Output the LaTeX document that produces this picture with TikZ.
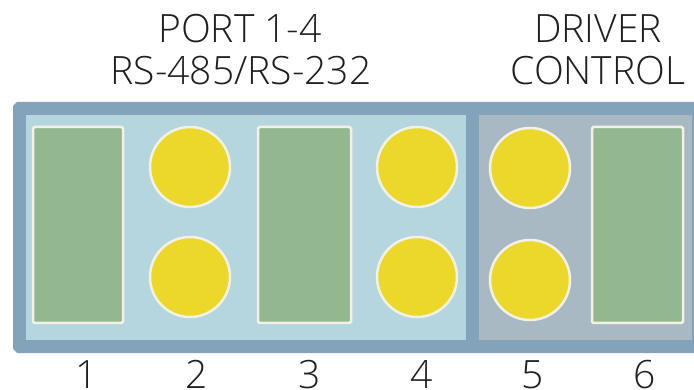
\documentclass[tikz,border=0pt]{standalone}
\usepackage{fontspec}
\setmainfont{Open Sans Light}
\definecolor{frame}{HTML}{82A3BA}
\definecolor{portbg}{HTML}{B5D6DE}
\definecolor{drvbg}{HTML}{A9B9C4}
\definecolor{slot}{HTML}{93B890}
\definecolor{led}{HTML}{ECD82A}
\definecolor{rim}{HTML}{F3F1E6}
\begin{document}
\begin{tikzpicture}[x=1pt,y=-1pt,
  slotbox/.style={fill=slot,draw=rim,line width=2.5pt,rounded corners=1.5pt},
  ledc/.style={fill=led,draw=rim,line width=2.5pt},
  lbl/.style={font=\fontsize{39}{39}\selectfont,text=black!88,inner sep=0pt,anchor=base},
  num/.style={font=\fontsize{39}{39}\selectfont,text=black!88,inner sep=0pt,anchor=base}]
\useasboundingbox (0,0) rectangle (694,390);
% outer frame
\fill[frame] (17,102) -- (700,102) -- (700,353) -- (17,353) -- (13,349) -- (13,106) -- cycle;
% panels
\fill[portbg] (26,115) rectangle (466,340);
\fill[drvbg] (479,115) rectangle (692,340);
% slots
\node[slotbox,minimum width=90pt,minimum height=196pt,inner sep=0pt] (s1) at (78,225) {};
\node[slotbox,minimum width=93pt,minimum height=196pt,inner sep=0pt] (s3) at (304.5,225) {};
\node[slotbox,minimum width=91pt,minimum height=196pt,inner sep=0pt] (s6) at (637.5,225) {};
% leds
\node[ledc,circle,minimum size=80pt,inner sep=0pt] (l2a) at (190,167) {};
\node[ledc,circle,minimum size=80pt,inner sep=0pt] (l2b) at (190,277) {};
\node[ledc,circle,minimum size=80pt,inner sep=0pt] (l4a) at (417,167) {};
\node[ledc,circle,minimum size=80pt,inner sep=0pt] (l4b) at (417,277) {};
\node[ledc,circle,minimum size=80pt,inner sep=0pt] (l5a) at (530,168) {};
\node[ledc,circle,minimum size=80pt,inner sep=0pt] (l5b) at (530,280) {};
% labels
\node[lbl] (t1) at (240,43) {PORT 1-4};
\node[lbl] (t2) at (241,85) {RS-485/RS-232};
\node[lbl] (t3) at (598,43) {DRIVER};
\node[lbl] (t4) at (598,85) {CONTROL};
\node[num] (n1) at (87,388) {1};
\node[num] (n2) at (197,388) {2};
\node[num] (n3) at (310,388) {3};
\node[num] (n4) at (422,388) {4};
\node[num] (n5) at (533,388) {5};
\node[num] (n6) at (645,388) {6};
\end{tikzpicture}
\end{document}
